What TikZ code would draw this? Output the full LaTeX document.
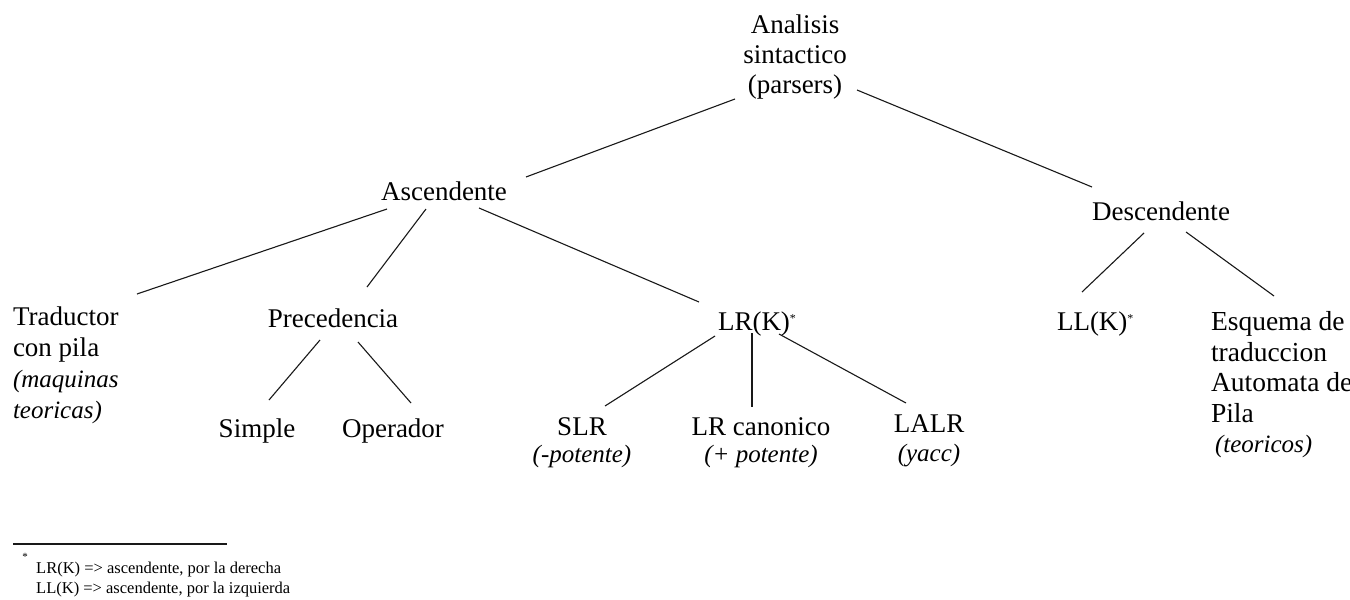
\documentclass[tikz,border=0pt]{standalone}
\usepackage{fontspec}
\setmainfont{Liberation Serif}
\usetikzlibrary{calc}
\tikzset{
  lbl/.style={inner sep=0pt, outer sep=0pt, font=\fontsize{27}{31}\selectfont},
  edge/.style={line width=1.1pt, draw=black!90},
}
\newcommand{\notetxt}[1]{{\itshape\fontsize{25}{27}\selectfont #1}}
\newcommand{\starmark}{\raisebox{8pt}{\fontsize{12}{12}\selectfont *}}
\begin{document}
\begin{tikzpicture}[x=1pt,y=-1pt]
\useasboundingbox[fill=white] (0,0) rectangle (1350,600);
% nodes
\node[lbl, font=\fontsize{27}{30}\selectfont, align=center, anchor=north] (root) at (795,14.6) {Analisis\\sintactico\\(parsers)};
\node[lbl, anchor=base] (asc) at (444,200) {Ascendente};
\node[lbl, anchor=base] (desc) at (1161,220) {Descendente};
\node[lbl, font=\fontsize{27}{31}\selectfont, align=left, anchor=north west] (trad) at (13,306.6) {Traductor\\con pila\\\notetxt{(maquinas}\\\notetxt{teoricas)}};
\node[lbl, anchor=base] (prec) at (333,327) {Precedencia};
\node[lbl, anchor=base west] (lrk) at (718,330) {LR(K)\starmark};
\node[lbl, anchor=base west] (llk) at (1057,330) {LL(K)\starmark};
\node[lbl, font=\fontsize{27.5}{30.5}\selectfont, align=left, anchor=north west] (esq) at (1211,311.6) {Esquema de\\traduccion\\Automata de\\Pila\\\hspace{4pt}\notetxt{(teoricos)}};
\node[lbl, anchor=base] (simple) at (257,437) {Simple};
\node[lbl, anchor=base] (oper) at (393,437) {Operador};
\node[lbl, font=\fontsize{27}{27}\selectfont, align=center, anchor=north] (slr) at (582,418.1) {SLR\\\notetxt{(-potente)}};
\node[lbl, font=\fontsize{27}{27}\selectfont, align=center, anchor=north] (lrc) at (761,417.6) {LR canonico\\\notetxt{(+ potente)}};
\node[lbl, font=\fontsize{27}{29}\selectfont, align=center, anchor=north] (lalr) at (929,415.1) {LALR\\\notetxt{(yacc)}};
% connectors
\draw[edge] ($(root.north)+(-60,84.4)$) -- ($(asc.base)+(82,-23)$);
\draw[edge] ($(root.north)+(62,75.4)$) -- ($(desc.base)+(-69,-33)$);
\draw[edge] ($(asc.base)+(-57,9)$) -- ($(trad.north west)+(124,-12.6)$);
\draw[edge] ($(asc.base)+(-18,9)$) -- ($(prec.base)+(34,-40)$);
\draw[edge] ($(asc.base)+(35,8)$) -- ($(lrk.base west)+(-19,-28)$);
\draw[edge] ($(desc.base)+(-17,13)$) -- ($(llk.base west)+(25,-38)$);
\draw[edge] ($(desc.base)+(25,12)$) -- ($(esq.north west)+(63,-15.6)$);
\draw[edge] ($(prec.base)+(-13,13)$) -- ($(simple.base)+(12,-37)$);
\draw[edge] ($(prec.base)+(25,15)$) -- ($(oper.base)+(18,-34)$);
\draw[edge] ($(lrk.base west)+(-3,6)$) -- ($(slr.north)+(23,-12.1)$);
\draw[edge] ($(lrk.base west)+(34,3)$) -- ($(lrc.north)+(-9,-10.6)$);
\draw[edge] ($(lrk.base west)+(61,4)$) -- ($(lalr.north)+(-23,-12.1)$);
% footnote
\coordinate (rulea) at (13,544);
\coordinate (ruleb) at (227,544);
\draw[line width=1.6pt, draw=black!90] (rulea) -- (ruleb);
\node[inner sep=0pt, font=\fontsize{11}{11}\selectfont] (fstar) at (25,557) {*};
\node[inner sep=0pt, font=\fontsize{16.5}{20}\selectfont, align=left, anchor=north west] (fnote) at (36,561.7) {LR(K) => ascendente, por la derecha\\LL(K) => ascendente, por la izquierda};
\end{tikzpicture}
\end{document}
